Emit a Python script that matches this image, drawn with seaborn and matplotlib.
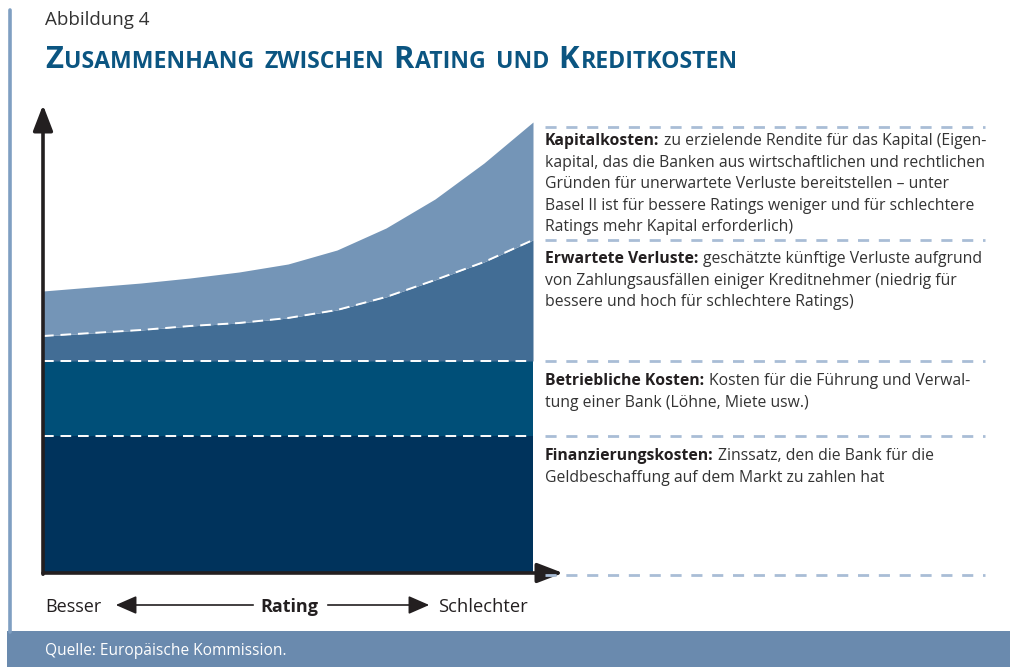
import matplotlib
matplotlib.use("Agg")
import matplotlib.pyplot as plt
import seaborn as sns
import numpy as np
import pandas as pd
from matplotlib.lines import Line2D
from matplotlib.patches import Rectangle, FancyArrowPatch

W, H = 1010, 667

# --- data (cost layers, bottom to top) ---
rating = [0, 1, 2, 3, 4, 5, 6, 7, 8, 9, 10]
finanzierung = [137, 137, 137, 137, 137, 137, 137, 137, 137, 137, 137]
betrieblich = [75, 75, 75, 75, 75, 75, 75, 75, 75, 75, 75]
erwartet = [25, 28, 31, 35, 38, 43, 51, 64, 81, 99, 121]
kapital = [45, 46, 47, 48, 51, 54, 60, 69, 81, 99, 118]

layer_names = ["Finanzierungskosten", "Betriebliche Kosten", "Erwartete Verluste", "Kapitalkosten"]
layer_colors = ["#00335c", "#004f78", "#426d95", "#7495b7"]

notes = [
    ("Kapitalkosten:", ["zu erzielende Rendite für das Kapital (Eigen-",
                        "kapital, das die Banken aus wirtschaftlichen und rechtlichen",
                        "Gründen für unerwartete Verluste bereitstellen – unter",
                        "Basel II ist für bessere Ratings weniger und für schlechtere",
                        "Ratings mehr Kapital erforderlich)"]),
    ("Erwartete Verluste:", ["geschätzte künftige Verluste aufgrund",
                             "von Zahlungsausfällen einiger Kreditnehmer (niedrig für",
                             "bessere und hoch für schlechtere Ratings)"]),
    ("Betriebliche Kosten:", ["Kosten für die Führung und Verwal-",
                              "tung einer Bank (Löhne, Miete usw.)"]),
    ("Finanzierungskosten:", ["Zinssatz, den die Bank für die",
                              "Geldbeschaffung auf dem Markt zu zahlen hat"]),
]
note_top = [140, 258, 380, 455]
sep_lines = [127, 240, 361, 436, 575]

df = pd.DataFrame({"rating": rating, "Finanzierungskosten": finanzierung,
                   "Betriebliche Kosten": betrieblich, "Erwartete Verluste": erwartet,
                   "Kapitalkosten": kapital})
tops = df[layer_names].cumsum(axis=1)

sns.set_theme(style="white")
plt.rcParams["font.family"] = ["Open Sans", "DejaVu Sans"]

fig = plt.figure(figsize=(W / 100, H / 100), dpi=100)


def fx(x):
    return x / W


def fy(y):
    return 1 - y / H


# main axes: x 43..563 px, y 105..573 px
ax = fig.add_axes([fx(43), fy(573), 520 / W, 468 / H])
xmax = 10 * 520 / 490
ax.set_xlim(0, xmax)
ax.set_ylim(0, 468)
ax.axis("off")

lower = np.zeros(len(rating))
for name, col in zip(layer_names, layer_colors):
    upper = tops[name].to_numpy()
    ax.fill_between(df["rating"], lower, upper, color=col, lw=0)
    lower = upper

for name in layer_names[:3]:
    sns.lineplot(x=df["rating"], y=tops[name], ax=ax, color="white",
                 linestyle=(0, (5.5, 3.5)), linewidth=1.4)

# axis arrows
arrow_kw = dict(arrowstyle="-|>,head_length=1.3,head_width=0.5",
                color="#231f20", lw=2.6, shrinkA=0, shrinkB=0)
ax.annotate("", xy=(0, 468), xytext=(0, -1.2), arrowprops=arrow_kw, annotation_clip=False)
ax.annotate("", xy=(xmax, 0), xytext=(0, 0), arrowprops=arrow_kw, annotation_clip=False)

# left border and footer
fig.add_artist(Line2D([fx(9.5), fx(9.5)], [fy(10), fy(632)], color="#7f9fc2", lw=2.6))
fig.add_artist(Rectangle((fx(7), 0), 1 - fx(7), fy(631), color="#6a8aae", lw=0))
fig.text(fx(45), fy(651), "Quelle: Europäische Kommission.", color="white",
         fontsize=11.2, va="center", ha="left")

fig.text(fx(45), fy(25), "Abbildung 4", color="#333333", fontsize=13.5,
         va="baseline", ha="left")

fig.canvas.draw()
renderer = fig.canvas.get_renderer()


def put(x, y, s, **kw):
    t = fig.text(fx(x), fy(y), s, va="baseline", ha="left", **kw)
    return x + t.get_window_extent(renderer=renderer).width


# title in small caps
title_col = "#0b5581"
pieces = [("Z", 22.3), ("USAMMENHANG", 16.6), (" ", 0), ("ZWISCHEN", 16.6), (" ", 0),
          ("R", 22.3), ("ATING", 16.6), (" ", 0), ("UND", 16.6), (" ", 0),
          ("K", 22.3), ("REDITKOSTEN", 16.6)]
x = 45
for s, size in pieces:
    if s == " ":
        x += 8
        continue
    x = put(x, 68, s, fontsize=size, fontweight="bold", color=title_col) + 1.5

# right-hand notes
txt_col = "#333333"
fs = 11.3
line_h = 21.6
for (label, lines), top in zip(notes, note_top):
    y = top + 5
    x = put(545, y, label, fontsize=fs, fontweight="bold", color="#231f20")
    put(x + 4.5, y, lines[0], fontsize=fs, color=txt_col)
    for i, ln in enumerate(lines[1:], start=1):
        put(545, y + i * line_h, ln, fontsize=fs, color=txt_col)

for yy in sep_lines:
    fig.add_artist(Line2D([fx(545), fx(985)], [fy(yy), fy(yy)], color="#a9bdd6",
                          lw=2, linestyle=(0, (4, 3.5))))

# rating scale below the chart
put(45, 612, "Besser", fontsize=13, color="#231f20")
small_arrow = dict(arrowstyle="-|>,head_length=8,head_width=3.5", mutation_scale=1.6,
                   color="#231f20", lw=1.2, transform=fig.transFigure)
fig.add_artist(FancyArrowPatch((fx(256), fy(605)), (fx(113), fy(605)), **small_arrow))
put(260, 612, "Rating", fontsize=13, fontweight="bold", color="#231f20")
fig.add_artist(FancyArrowPatch((fx(325), fy(605)), (fx(432), fy(605)), **small_arrow))
put(438, 612, "Schlechter", fontsize=13.2, color="#231f20")

fig.savefig("out.png", dpi=100)
